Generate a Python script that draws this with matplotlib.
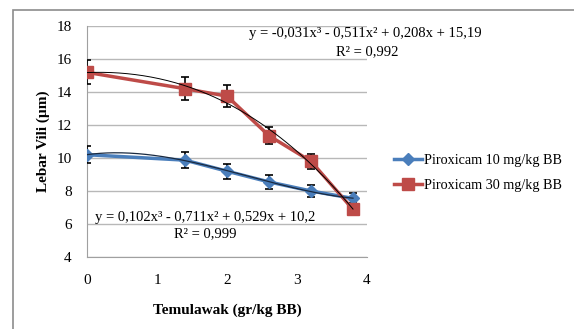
import numpy as np
import matplotlib
matplotlib.use("Agg")
import matplotlib.pyplot as plt
from matplotlib.patches import Rectangle
from matplotlib.lines import Line2D

# Data
dose = [0, 1.4, 2, 2.6, 3.2, 3.8]
piro10 = [10.2, 9.87, 9.2, 8.55, 8.0, 7.55]
piro10_err = [0.5, 0.5, 0.45, 0.4, 0.38, 0.3]
piro30 = [15.19, 14.2, 13.75, 11.35, 9.8, 6.88]
piro30_err = [0.73, 0.7, 0.67, 0.52, 0.45, 0.25]
labels = ["Piroxicam 10 mg/kg BB", "Piroxicam 30 mg/kg BB"]
eq10 = ["y = 0,102x³ - 0,711x² + 0,529x + 10,2", "R² = 0,999"]
eq30 = ["y = -0,031x³ - 0,511x² + 0,208x + 15,19", "R² = 0,992"]

plt.rcParams['font.family'] = ['Liberation Serif', 'DejaVu Serif']

W, H = 574, 329
fig = plt.figure(figsize=(W/100, H/100), dpi=100)
fig.patches.append(Rectangle((13/W, -0.05), 1.2, 1 - 9.5/H + 0.05, transform=fig.transFigure,
                             fill=False, edgecolor='#8c8c8c', lw=1.2))

ax = fig.add_axes([87/W, 1 - 257/H, (367-87)/W, (257-26)/H])
ax.set_xlim(0, 4)
ax.set_ylim(4, 18)
ax.set_yticks(range(4, 19, 2))
ax.set_xticks(range(0, 5))
ax.grid(axis='y', color='#b8b8b8', lw=1)
ax.set_axisbelow(True)
for s in ['top', 'right']:
    ax.spines[s].set_visible(False)
for s in ['left', 'bottom']:
    ax.spines[s].set_color('#a0a0a0')
ax.tick_params(length=0, labelsize=11, colors='black')
ax.tick_params(axis='x', pad=12)
ax.tick_params(axis='y', pad=11)

c_blue = '#4a7ebb'
c_red = '#be4b48'

ax.errorbar(dose, piro10, yerr=piro10_err, color=c_blue, lw=2.5, marker='D', ms=6,
            ecolor='black', elinewidth=1.2, capsize=3, capthick=1.2, zorder=3)
ax.errorbar(dose, piro30, yerr=piro30_err, color=c_red, lw=2.5, marker='s', ms=9,
            ecolor='black', elinewidth=1.2, capsize=3, capthick=1.2, zorder=3)

xs = np.linspace(0, 3.8, 200)
p10 = np.polyfit(dose, piro10, 3)
p30 = np.polyfit(dose, piro30, 3)
ax.plot(xs, np.polyval(p10, xs), color='#1a2a40', lw=0.9, zorder=4)
ax.plot(xs, np.polyval(p30, xs), color='black', lw=0.7, zorder=4)

def px(x, y):
    return x / W, 1 - y / H

fs_eq = 10.5
fig.text(*px(365.5, 34), eq30[0], ha='center', va='center', fontsize=fs_eq)
fig.text(*px(367, 52), eq30[1], ha='center', va='center', fontsize=fs_eq)
fig.text(*px(205, 217), eq10[0], ha='center', va='center', fontsize=fs_eq)
fig.text(*px(205, 234), eq10[1], ha='center', va='center', fontsize=fs_eq)

ax.set_ylabel("Lebar Vili (µm)", fontsize=11, fontweight='bold', labelpad=5)
ax.set_xlabel("Temulawak (gr/kg BB)", fontsize=11, fontweight='bold', labelpad=12)

h = [Line2D([], [], color=c_blue, lw=2.5, marker='D', ms=6),
     Line2D([], [], color=c_red, lw=2.5, marker='s', ms=9)]
fig.legend(h, labels, loc='center left', bbox_to_anchor=(381/W, 1 - 173/H), frameon=False,
           fontsize=10.2, handlelength=2.0, handletextpad=0.1, labelspacing=0.8)

fig.savefig("out.png", dpi=100)
